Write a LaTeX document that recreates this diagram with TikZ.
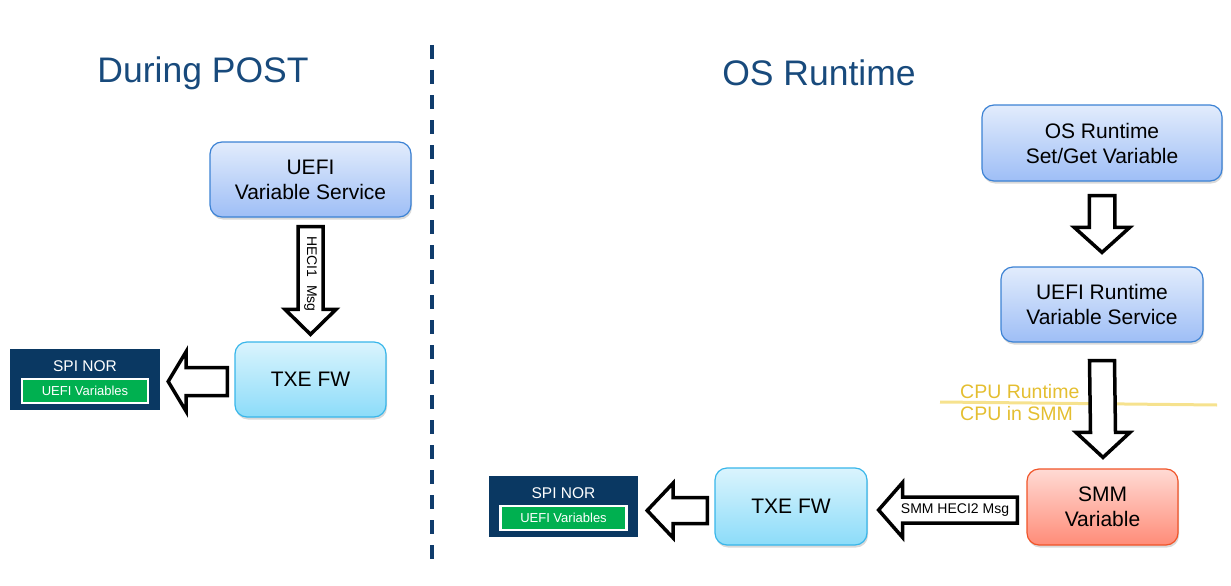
\documentclass[tikz,border=0pt]{standalone}
\usepackage{fontspec}
\setmainfont{Liberation Sans}
\usetikzlibrary{calc,shadows}
\definecolor{titleblue}{RGB}{24,74,124}
\definecolor{dashblue}{RGB}{16,60,108}
\definecolor{bluetop}{RGB}{226,236,252}
\definecolor{bluebot}{RGB}{158,190,246}
\definecolor{blueedge}{RGB}{60,130,212}
\definecolor{cyantop}{RGB}{218,244,253}
\definecolor{cyanbot}{RGB}{140,220,249}
\definecolor{cyanedge}{RGB}{56,182,234}
\definecolor{redtop}{RGB}{255,218,212}
\definecolor{redbot}{RGB}{255,140,120}
\definecolor{rededge}{RGB}{240,84,40}
\definecolor{spinavy}{RGB}{10,56,98}
\definecolor{spigreen}{RGB}{0,176,80}
\definecolor{cpuline}{RGB}{246,226,142}
\definecolor{cputext}{RGB}{228,190,48}
\newcommand{\varrowblk}[5]{%
  \draw[blk] ($(#1)+(-#3,0)$) -- ($(#2)+(-#3,-#5)$) -- ($(#2)+(-#4,-#5)$) -- (#2)
    -- ($(#2)+(#4,-#5)$) -- ($(#2)+(#3,-#5)$) -- ($(#1)+(#3,0)$) -- cycle;}
\newcommand{\harrowblk}[5]{%
  \draw[blk] ($(#1)+(0,-#3)$) -- ($(#2)+(#5,-#3)$) -- ($(#2)+(#5,-#4)$) -- (#2)
    -- ($(#2)+(#5,#4)$) -- ($(#2)+(#5,#3)$) -- ($(#1)+(0,#3)$) -- cycle;}
\tikzset{
  boxbase/.style={rectangle, rounded corners=12pt, line width=1.2pt, align=center,
    font=\fontsize{21}{25}\selectfont, inner sep=0pt,
    drop shadow={shadow xshift=1pt, shadow yshift=-2.5pt, opacity=0.25, fill=black!60}},
  bluebox/.style={boxbase, draw=blueedge, top color=bluetop, bottom color=bluebot},
  cyanbox/.style={boxbase, draw=cyanedge, top color=cyantop, bottom color=cyanbot},
  redbox/.style={boxbase, draw=rededge, top color=redtop, bottom color=redbot},
  spibox/.style={rectangle, fill=spinavy, inner sep=0pt},
  spititle/.style={text=white, font=\fontsize{15.5}{18}\selectfont, inner sep=0pt},
  greenbox/.style={rectangle, fill=spigreen, draw=white, line width=2.5pt, text=white,
    font=\fontsize{13}{15}\selectfont, inner sep=0pt, minimum width=126pt, minimum height=24pt},
  blk/.style={draw=black, fill=white, line width=3.5pt, miter limit=10},
  title/.style={text=titleblue, font=\fontsize{35.5}{40}\selectfont},
  msg/.style={font=\fontsize{14}{16}\selectfont, inner sep=0pt},
  cpu/.style={text=cputext, font=\fontsize{19.5}{22}\selectfont, anchor=west, inner sep=0pt}
}
\begin{document}
\begin{tikzpicture}[x=1pt,y=-1pt]
\useasboundingbox (0,0) rectangle (1231,586);
% titles
\node[title] (t1) at (203,73) {During POST};
\node[title] (t2) at (819,73) {OS Runtime};
% divider
\draw[dashblue, line width=3.5pt, dash pattern=on 14pt off 11pt] (432,45) -- (432,568);

% ---- left panel
\node[bluebox, minimum width=201pt, minimum height=75pt] (uefi) at (310.5,179.5) {UEFI\\Variable Service};
\node[cyanbox, minimum width=151pt, minimum height=75pt] (txeL) at (310.5,379.5) {TXE FW};
\node[spibox, minimum width=150pt, minimum height=61pt] (spiL) at (85,379.5) {};
\node[spititle] (spiLt) at (85,366) {SPI NOR};
\node[greenbox] (spiLg) at (85,391) {UEFI Variables};

\coordinate (a1s) at ($(uefi.south)+(0,9)$);
\coordinate (a1t) at ($(txeL.north)+(0,-7)$);
\varrowblk{a1s}{a1t}{12.5}{25.5}{25}
\node[msg, rotate=-90] (m1) at (310.5,274) {HECI1\ \ Msg};

\coordinate (a2s) at ($(txeL.west)+(-7,2)$);
\coordinate (a2t) at ($(spiL.east)+(8,2)$);
\harrowblk{a2s}{a2t}{14}{30}{18}

% ---- right panel
\node[bluebox, minimum width=240pt, minimum height=76pt] (osrt) at (1102,143) {OS Runtime\\Set/Get Variable};
\node[bluebox, minimum width=202pt, minimum height=75pt] (uefirt) at (1102,304.5) {UEFI Runtime\\Variable Service};
\node[redbox, minimum width=151pt, minimum height=76pt] (smm) at (1102.5,507) {SMM\\Variable};
\node[cyanbox, minimum width=152pt, minimum height=77pt] (txeR) at (791,506.5) {TXE FW};
\node[spibox, minimum width=149pt, minimum height=61pt] (spiR) at (563.5,506.5) {};
\node[spititle] (spiRt) at (563.5,493) {SPI NOR};
\node[greenbox] (spiRg) at (563.5,518) {UEFI Variables};

\coordinate (a3s) at ($(osrt.south)+(0,14)$);
\coordinate (a3t) at ($(uefirt.north)+(0,-14)$);
\varrowblk{a3s}{a3t}{12.75}{27.75}{25}

% CPU boundary
\draw[cpuline, line width=3pt] (940,402) -- (1217,405);
\node[cpu] (cpu1) at (960,392) {CPU Runtime};
\node[cpu] (cpu2) at (960,414) {CPU in SMM};

\coordinate (a4s) at ($(uefirt.south)+(0,18)$);
\coordinate (a4t) at ($(smm.north)+(0.5,-11)$);
\varrowblk{a4s}{a4t}{12.5}{27}{25}

\coordinate (a5s) at ($(txeR.west)+(-7,4)$);
\coordinate (a5t) at ($(spiR.east)+(9,4)$);
\harrowblk{a5s}{a5t}{13}{27.5}{26}

\coordinate (a6s) at ($(smm.west)+(-9,3)$);
\coordinate (a6t) at ($(txeR.east)+(11,3.5)$);
\harrowblk{a6s}{a6t}{13}{27.5}{24}
\node[msg] (m2) at (955,510) {SMM HECI2 Msg};
\end{tikzpicture}
\end{document}
